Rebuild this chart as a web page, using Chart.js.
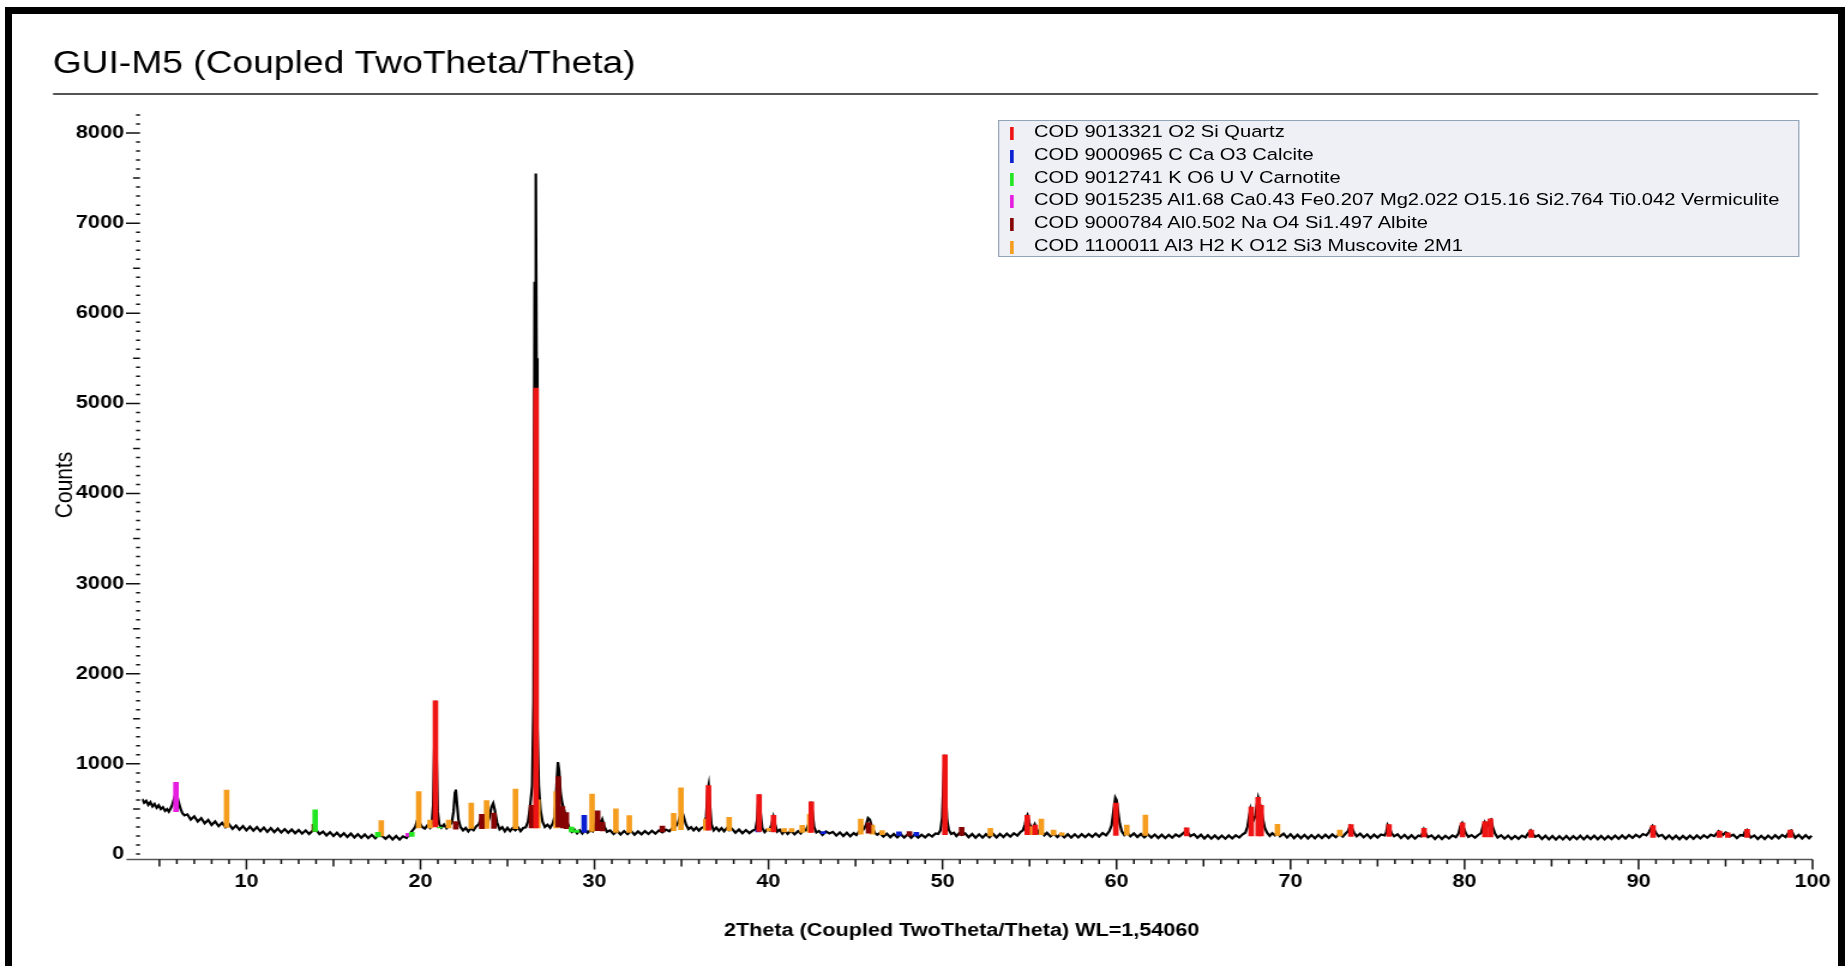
<!DOCTYPE html>
<html lang="en">
<head>
<meta charset="UTF-8">
<title>GUI-M5 (Coupled TwoTheta/Theta)</title>
<script src="https://cdn.jsdelivr.net/npm/chart.js"></script>
<style>
  html, body { margin: 0; padding: 0; background: #fff; overflow: hidden; }
  #frame { position: absolute; left: 5px; top: 7px; width: 1840px; height: 1000px; border: 7px solid #000; box-sizing: border-box; pointer-events: none; z-index: 3; }
  /* the original picture is stretched sideways, so the whole chart is too */
  #wrap { position: absolute; left: 0; top: 0; width: 1538px; height: 966px; transform: scaleX(1.1996); transform-origin: 0 0; }
  #legendBox { position: absolute; left: 832px; top: 120px; width: 668px; height: 137px; box-sizing: border-box; background: #eef0f5; border: 1.5px solid #92a4b8; font: 16.8px "Liberation Sans", Arial, sans-serif; color: #000; }
  .row { position: relative; height: 22.8px; line-height: 22.8px; padding-left: 29px; white-space: nowrap; }
  .row i { position: absolute; left: 9px; top: 6px; width: 2.6px; height: 13px; }
</style>
</head>
<body>
<div id="wrap">
  <canvas id="xrd"></canvas>
  <div id="legendBox"></div>
</div>
<div id="frame"></div>

<script>
// ---- data ----
const xTickValues = [10, 20, 30, 40, 50, 60, 70, 80, 90, 100];
const yTickValues = [0, 1000, 2000, 3000, 4000, 5000, 6000, 7000, 8000];

const phaseNames = [
    'COD 9013321 O2 Si Quartz',
    'COD 9000965 C Ca O3 Calcite',
    'COD 9012741 K O6 U V Carnotite',
    'COD 9015235 Al1.68 Ca0.43 Fe0.207 Mg2.022 O15.16 Si2.764 Ti0.042 Vermiculite',
    'COD 9000784 Al0.502 Na O4 Si1.497 Albite',
    'COD 1100011 Al3 H2 K O12 Si3 Muscovite 2M1'
];

// measured scan: [2theta, counts]
const scanPoints = [
    [4.00,612],[4.12,568],[4.24,590],[4.36,545],[4.48,575],[4.60,528],[4.72,556],[4.84,512],[4.96,540],[5.08,498],[5.20,520],[5.32,478],[5.44,498],[5.54,470],
    [5.64,505],[5.74,548],[5.84,612],[5.93,668],[6.01,648],[6.10,580],[6.20,508],[6.32,452],[6.44,428],
    [6.60,440],[6.80,382],[7.00,418],[7.20,360],[7.40,398],[7.60,340],[7.80,378],[8.00,322],[8.20,362],[8.40,308],[8.60,346],[8.80,296],[9.00,330],
    [9.20,278],[9.40,316],[9.60,270],[9.80,310],[10.00,262],[10.20,304],[10.40,258],[10.60,298],[10.80,252],[11.00,292],[11.20,246],[11.40,288],[11.60,242],[11.80,282],
    [12.00,238],[12.20,276],[12.40,236],[12.60,272],[12.80,230],[13.00,266],[13.20,226],[13.40,262],[13.60,222],[13.80,258],[14.00,270],[14.20,220],[14.40,248],
    [14.60,206],[14.80,242],[15.00,200],[15.20,236],[15.40,194],[15.60,230],[15.80,188],[16.00,226],[16.20,184],[16.40,220],[16.60,180],[16.80,216],[17.00,176],
    [17.20,212],[17.40,174],[17.60,214],[17.80,200],[18.00,168],[18.20,204],[18.40,162],[18.60,200],[18.80,160],[19.00,196],[19.20,178],[19.40,228],[19.55,262],
    [19.70,300],[19.80,365],[19.88,405],[19.96,345],[20.10,300],[20.25,282],[20.40,318],[20.55,290],[20.65,340],
    [20.73,540],[20.80,1200],[20.86,1700],[20.92,1100],[20.99,470],[21.08,330],
    [21.20,292],[21.35,326],[21.50,286],[21.65,318],[21.80,345],
    [21.90,470],[21.98,680],[22.03,715],[22.10,560],[22.18,385],[22.30,300],
    [22.45,262],[22.60,290],[22.75,250],[22.90,286],[23.05,264],[23.20,305],[23.35,330],[23.48,395],[23.58,355],[23.70,300],[23.85,335],[23.98,420],[24.08,520],
    [24.18,562],[24.28,480],[24.40,350],[24.55,272],[24.70,298],[24.85,252],[25.00,290],[25.15,255],[25.30,288],[25.45,262],[25.60,296],[25.75,254],[25.90,288],
    [26.05,296],[26.18,360],[26.30,522],[26.42,760],[26.50,1700],[26.56,6350],[26.60,6000],[26.63,7550],[26.67,5500],[26.72,1400],[26.80,760],[26.90,480],
    [27.02,355],[27.15,300],[27.30,325],[27.45,290],[27.60,338],[27.72,420],[27.82,760],[27.90,1020],[27.97,920],[28.05,680],[28.15,560],[28.28,470],[28.42,360],
    [28.55,290],[28.70,245],[28.85,268],[29.00,230],[29.15,262],[29.30,228],[29.45,270],[29.60,236],[29.75,262],[29.90,250],[30.05,320],[30.15,420],[30.25,380],
    [30.35,330],[30.45,382],[30.58,300],[30.72,246],
    [30.90,262],[31.10,222],[31.30,258],[31.50,216],[31.70,254],[31.90,220],[32.10,256],[32.30,214],[32.50,250],[32.70,218],[32.90,254],[33.10,222],[33.30,258],
    [33.50,226],[33.70,262],[33.90,240],[34.10,270],[34.30,252],[34.50,292],[34.65,300],[34.80,345],[34.92,420],[35.02,480],[35.12,420],[35.25,330],[35.40,276],
    [35.55,298],[35.70,262],[35.85,292],[36.00,258],[36.15,290],[36.30,300],[36.42,420],[36.50,700],[36.56,762],[36.63,560],[36.72,330],[36.85,262],[37.00,292],
    [37.15,256],[37.30,288],[37.45,252],[37.60,286],[37.75,262],[37.90,280],[38.10,236],[38.30,272],[38.50,230],[38.70,266],[38.90,232],[39.10,262],[39.25,272],
    [39.35,380],[39.42,620],[39.47,660],[39.54,460],[39.64,290],[39.78,242],[39.92,272],[40.06,262],[40.18,330],[40.28,410],[40.38,330],[40.50,248],[40.65,270],
    [40.80,226],[40.95,262],[41.10,222],[41.30,258],[41.50,218],[41.70,254],[41.85,228],[42.00,262],[42.15,262],[42.30,330],[42.40,480],[42.46,580],[42.52,470],
    [42.62,300],[42.75,238],[42.90,256],[43.10,212],[43.30,250],[43.50,228],[43.70,246],[43.90,204],[44.10,240],[44.30,200],[44.50,236],[44.70,196],[44.90,232],
    [45.05,210],[45.20,248],[45.35,250],[45.50,282],[45.62,330],[45.72,400],[45.82,382],[45.95,300],[46.10,236],[46.25,214],[46.40,232],[46.60,192],[46.80,226],
    [47.00,186],[47.20,222],[47.40,184],[47.60,220],[47.80,182],[48.00,218],[48.20,180],[48.40,216],[48.60,182],[48.80,214],[49.00,184],[49.20,220],[49.40,194],
    [49.60,228],[49.75,222],[49.88,262],[49.98,400],[50.06,820],[50.12,1100],[50.18,700],[50.26,380],[50.36,266],[50.50,222],[50.65,236],[50.80,198],[50.95,230],
    [51.10,212],[51.30,228],[51.50,186],[51.70,222],[51.90,180],[52.10,218],[52.30,182],[52.50,220],[52.70,186],[52.90,224],[53.10,184],[53.30,222],[53.50,188],
    [53.70,226],[53.90,192],[54.10,230],[54.30,204],[54.48,244],[54.62,262],[54.74,330],[54.82,410],[54.88,432],[54.98,350],[55.10,282],[55.22,300],[55.30,330],
    [55.40,280],[55.55,228],[55.70,250],[55.85,208],[56.00,236],[56.20,196],[56.40,226],[56.60,188],[56.80,222],[57.00,184],[57.20,220],[57.40,182],[57.60,218],
    [57.80,184],[58.00,220],[58.20,186],[58.40,222],[58.60,190],[58.80,226],[59.00,194],[59.20,232],[59.40,206],[59.58,252],[59.72,320],[59.84,500],[59.93,625],
    [60.00,600],[60.08,480],[60.18,340],[60.30,252],[60.45,210],[60.60,240],[60.80,196],[61.00,228],[61.20,188],[61.40,222],[61.60,184],[61.80,218],[62.00,182],
    [62.20,216],[62.40,178],[62.60,214],[62.80,176],[63.00,212],[63.20,180],[63.40,216],[63.60,194],[63.80,226],[63.92,244],[64.00,272],[64.10,238],[64.25,198],
    [64.45,220],[64.65,180],[64.85,214],[65.05,172],[65.25,208],[65.45,170],[65.65,206],[65.85,168],[66.05,204],[66.25,170],[66.45,206],[66.65,172],[66.85,208],
    [67.05,182],[67.25,218],[67.40,236],[67.52,300],[67.62,420],[67.70,500],[67.78,440],[67.88,380],[67.98,420],[68.06,540],[68.14,622],[68.22,560],[68.30,520],
    [68.40,400],[68.52,290],[68.65,236],[68.80,200],[68.95,230],[69.10,206],[69.25,240],[69.40,196],[69.60,226],[69.80,182],[70.00,220],[70.20,176],[70.40,214],
    [70.60,174],[70.80,212],[71.00,172],[71.20,210],[71.40,174],[71.60,212],[71.80,176],[72.00,214],[72.20,180],[72.40,218],[72.60,186],[72.80,222],[73.00,192],
    [73.15,224],[73.30,252],[73.42,312],[73.52,290],[73.65,236],[73.80,196],[74.00,226],[74.20,184],[74.40,218],[74.60,178],[74.80,214],[75.00,182],[75.20,216],
    [75.40,206],[75.50,240],[75.58,322],[75.68,292],[75.80,232],[75.95,196],[76.15,218],[76.35,176],[76.55,212],[76.75,172],[76.95,208],[77.15,170],[77.35,204],
    [77.50,196],[77.58,232],[77.66,272],[77.75,232],[77.90,186],[78.10,206],[78.30,166],[78.50,204],[78.70,166],[78.90,202],[79.10,172],[79.30,206],[79.50,186],
    [79.65,226],[79.76,310],[79.86,342],[79.95,290],[80.08,226],[80.22,190],[80.40,210],[80.60,180],[80.80,214],[80.95,232],[81.07,322],[81.15,352],[81.25,300],
    [81.35,312],[81.45,372],[81.52,382],[81.62,300],[81.75,226],[81.90,182],[82.10,208],[82.30,170],[82.50,204],[82.70,166],[82.90,200],[83.10,168],[83.30,204],
    [83.50,184],[83.65,226],[83.80,262],[83.90,230],[84.05,190],[84.25,208],[84.45,166],[84.65,202],[84.85,162],[85.05,200],[85.25,160],[85.45,198],[85.65,162],
    [85.85,200],[86.05,160],[86.25,198],[86.45,164],[86.65,202],[86.85,162],[87.05,200],[87.25,166],[87.45,204],[87.65,164],[87.85,200],[88.05,162],[88.25,198],
    [88.45,166],[88.65,204],[88.85,168],[89.05,206],[89.25,172],[89.45,210],[89.65,178],[89.85,214],[90.05,186],[90.25,222],[90.45,206],[90.60,244],[90.72,292],
    [90.80,312],[90.90,270],[91.02,230],[91.15,196],[91.35,212],[91.55,170],[91.75,206],[91.95,166],[92.15,202],[92.35,164],[92.55,200],[92.75,166],[92.95,204],
    [93.15,168],[93.35,206],[93.55,172],[93.75,208],[93.95,180],[94.15,214],[94.35,198],[94.50,230],[94.60,252],[94.72,232],[94.85,212],[95.00,240],[95.10,232],
    [95.25,196],[95.45,214],[95.65,176],[95.85,210],[96.02,204],[96.12,250],[96.22,266],[96.32,222],[96.45,182],[96.65,206],[96.85,166],[97.05,202],[97.25,166],
    [97.45,204],[97.65,170],[97.85,208],[98.05,174],[98.25,212],[98.45,188],[98.60,232],[98.70,256],[98.78,262],[98.88,222],[99.00,180],[99.20,212],[99.40,172],
    [99.60,208],[99.80,174],[99.95,202]
];

// reference sticks of each phase: position (2theta), top and foot (counts)
const quartzPos  = [20.86, 26.64, 36.55, 39.46, 40.29, 42.46, 50.14, 54.87, 55.32, 59.96, 64.03, 67.74, 68.14, 68.31, 73.47, 75.66, 77.67, 79.88, 81.17, 81.49, 83.83, 90.83, 94.65, 95.13, 96.24, 98.72];
const quartzTop  = [1700, 5170, 760, 660, 430, 580, 1100, 430, 320, 565, 290, 520, 630, 540, 325, 325, 285, 345, 360, 390, 265, 315, 255, 235, 275, 265];
const quartzBase = [300, 290, 265, 250, 245, 240, 215, 215, 215, 205, 200, 200, 200, 200, 195, 195, 190, 190, 190, 190, 185, 185, 185, 185, 185, 185];

const calcitePos  = [29.41, 39.40, 43.15, 47.50, 48.50];
const calciteTop  = [430, 270, 250, 245, 240];
const calciteBase = [240, 245, 225, 205, 200];

const carnotitePos  = [13.95, 17.55, 19.50, 21.10, 28.68, 28.98];
const carnotiteTop  = [490, 240, 240, 300, 300, 265];
const carnotiteBase = [250, 190, 195, 290, 245, 240];

const vermiculitePos  = [5.95, 19.30];
const vermiculiteTop  = [796, 230];
const vermiculiteBase = [470, 195];

const albitePos  = [13.90, 22.03, 23.52, 24.22, 26.38, 27.92, 28.16, 28.38, 30.18, 30.46, 33.90, 45.75, 48.10, 51.10];
const albiteTop  = [330, 360, 440, 455, 540, 860, 525, 460, 480, 350, 310, 345, 250, 295];
const albiteBase = [250, 275, 280, 285, 290, 300, 290, 280, 260, 255, 245, 230, 200, 205];

const muscovitePos  = [8.86, 17.75, 19.90, 20.55, 21.62, 22.92, 23.80, 25.46, 26.74, 27.80, 29.86, 31.23, 32.00, 34.55, 34.97, 36.40, 37.74, 40.04, 40.90, 41.33, 41.94, 42.37, 45.30, 45.96, 46.53, 52.75, 55.05, 55.68, 56.38, 56.86, 60.59, 61.66, 69.25, 72.83];
const muscoviteTop  = [710, 370, 692, 377, 377, 566, 592, 721, 600, 692, 666, 500, 425, 452, 735, 388, 407, 285, 281, 281, 318, 440, 388, 322, 259, 285, 303, 388, 266, 236, 322, 433, 330, 266];
const muscoviteBase = [295, 200, 290, 290, 290, 285, 285, 280, 290, 290, 250, 240, 240, 260, 270, 265, 260, 255, 245, 245, 240, 240, 220, 220, 215, 200, 215, 215, 210, 205, 210, 205, 205, 200];

// ---- styles ----
const phaseColors = ['#ee1414', '#0a1ed2', '#22e622', '#e61ee0', '#860404', '#f59d1e'];
const FONT = '"Liberation Sans", Arial, sans-serif';

const phases = [
    [quartzPos, quartzTop, quartzBase],
    [calcitePos, calciteTop, calciteBase],
    [carnotitePos, carnotiteTop, carnotiteBase],
    [vermiculitePos, vermiculiteTop, vermiculiteBase],
    [albitePos, albiteTop, albiteBase],
    [muscovitePos, muscoviteTop, muscoviteBase]
];

// legend box, drawn as html inside the stretched wrapper
const legendBox = document.getElementById('legendBox');
phaseNames.forEach(function(name, i) {
    const row = document.createElement('div');
    row.className = 'row';
    row.innerHTML = '<i style="background:' + phaseColors[i] + '"></i>' + name;
    legendBox.appendChild(row);
});

// title rule, axis line, small tick marks and the x axis title
const axisDecor = {
    id: 'axisDecor',
    afterDraw(chart) {
        const ctx = chart.ctx;
        const a = chart.chartArea;
        const x = chart.scales.x, y = chart.scales.y;
        ctx.save();
        ctx.strokeStyle = '#1a1a1a';
        ctx.lineWidth = 1.4;
        ctx.beginPath();
        ctx.moveTo(44.2, 94);
        ctx.lineTo(1515.5, 94);
        ctx.stroke();

        ctx.strokeStyle = '#555';
        ctx.lineWidth = 1.5;
        ctx.beginPath();
        ctx.moveTo(a.left - 13, a.bottom);
        ctx.lineTo(a.right, a.bottom);
        ctx.stroke();

        ctx.strokeStyle = '#111';
        ctx.beginPath();
        for (let v = 5; v <= 100; v++) {
            const px = x.getPixelForValue(v);
            const len = v % 10 === 0 ? 10 : (v % 5 === 0 ? 7 : 4.5);
            ctx.moveTo(px, a.bottom);
            ctx.lineTo(px, a.bottom + len);
        }
        for (let v = 0; v <= 8200; v += 100) {
            const py = y.getPixelForValue(v);
            let len = v % 1000 === 0 ? 11.7 : (v % 500 === 0 ? 5.8 : 3.3);
            if (v === 0) len = 3.3;
            ctx.moveTo(a.left - 1.7 - len, py);
            ctx.lineTo(a.left - 1.7, py);
        }
        ctx.stroke();

        // axis title sits a little left of the plot centre in the original
        ctx.fillStyle = '#000';
        ctx.font = 'bold 18px ' + FONT;
        ctx.textAlign = 'center';
        ctx.textBaseline = 'middle';
        ctx.fillText('2Theta (Coupled TwoTheta/Theta) WL=1,54060', x.getPixelForValue(51.1), 931);
        ctx.restore();
    }
};

const datasets = phases.map(function(p, i) {
    return {
        type: 'bar',
        label: phaseNames[i],
        data: p[0].map(function(pos, k) { return { x: pos, y: [p[2][k], p[1][k]] }; }),
        backgroundColor: phaseColors[i],
        borderWidth: 0,
        barThickness: 4,
        maxBarThickness: 4,
        grouped: false,
        order: 0
    };
});
datasets.push({
    type: 'line',
    label: 'scan',
    data: scanPoints.map(function(p) { return { x: p[0], y: p[1] }; }),
    borderColor: '#000',
    borderWidth: 2.2,
    pointRadius: 0,
    tension: 0,
    order: 1
});

Chart.defaults.font.family = FONT;
Chart.defaults.color = '#000';

new Chart(document.getElementById('xrd'), {
    type: 'bar',
    data: { datasets: datasets },
    options: {
        responsive: true,
        maintainAspectRatio: false,
        animation: false,
        events: [],
        devicePixelRatio: 1,
        layout: { padding: { left: 44, right: 26.7, top: 20, bottom: 14 } },
        plugins: {
            legend: { display: false },
            tooltip: { enabled: false },
            title: {
                display: true,
                text: 'GUI-M5 (Coupled TwoTheta/Theta)',
                align: 'start',
                color: '#000',
                font: { size: 31, weight: 'normal' },
                padding: { top: 26, bottom: 27.3 }
            }
        },
        scales: {
            x: {
                type: 'linear',
                min: 4,
                max: 100,
                offset: false,
                grid: { display: false, drawTicks: false },
                border: { display: false },
                ticks: { autoSkip: false, maxRotation: 0, padding: 12, font: { size: 18, weight: 'bold' }, callback: function(v) { return String(v); } },
                afterBuildTicks: function(scale) { scale.ticks = xTickValues.map(function(v) { return { value: v }; }); },
                afterFit: function(scale) { scale.height = 92.6; }
            },
            y: {
                type: 'linear',
                min: -60,
                max: 8250,
                stacked: false,
                grid: { display: false, drawTicks: false },
                border: { display: false },
                ticks: { autoSkip: false, padding: 15, font: { size: 18, weight: 'bold' }, callback: function(v) { return String(v); } },
                afterBuildTicks: function(scale) { scale.ticks = yTickValues.map(function(v) { return { value: v }; }); },
                afterFit: function(scale) { scale.width = 74.4; },
                title: {
                    display: true,
                    text: 'Counts',
                    font: { size: 21, weight: 'normal' },
                    padding: { top: -2, bottom: 0 }
                }
            }
        }
    },
    plugins: [axisDecor]
});
</script>
</body>
</html>
